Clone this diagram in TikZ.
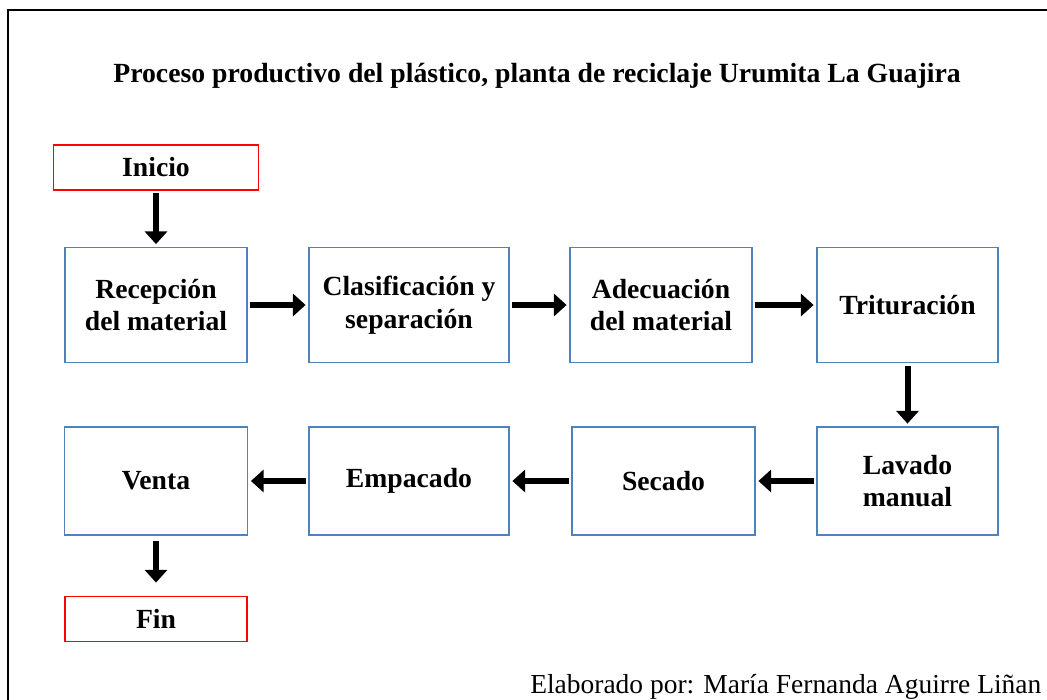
\documentclass[tikz,border=0pt]{standalone}
\usepackage{fontspec}
\setmainfont{Liberation Serif}
\usetikzlibrary{arrows.meta,positioning}
\definecolor{boxblue}{RGB}{79,129,189}

\tikzset{
  proc box/.style={draw=boxblue, line width=1.1pt, align=center, inner sep=0pt,
    font=\bfseries\fontsize{20.75}{24.5}\selectfont},
  term box/.style={draw=red, line width=1.1pt, align=center, inner sep=0pt,
    minimum height=33.5pt, font=\bfseries\fontsize{20.75}{24.5}\selectfont},
  flow/.style={->, line width=4.5pt, shorten <=2pt, shorten >=2pt}
}

\begin{document}
\begin{tikzpicture}[x=0.75pt, y=-0.75pt, >={Triangle[length=9.5pt,width=16.5pt]}]

\useasboundingbox (0,0) rectangle (1047,700);
\draw[line width=1.5pt] (8,10) rectangle (1070,720);

\node [font=\bfseries\fontsize{20.8}{24}\selectfont] (title) at (537,76)
  {Proceso productivo del plástico, planta de reciclaje Urumita La Guajira};

\node [term box, minimum width=153.75pt] (ini) at (156,167.5) {Inicio};
\node [term box, minimum width=136.5pt] (fin) at (156,619) {Fin};

\foreach \n/\t/\x/\w in {rec/{Recepción\\del material}/156/182,
    cla/{Clasificación y\\separación}/409/200,
    ade/{Adecuación\\del material}/661/182,
    tri/Trituración/907.5/181}
  \node [proc box, minimum width=\w*0.75pt, minimum height=86.25pt] (\n) at (\x,305) {\t};

\foreach \n/\t/\x/\w in {ven/Venta/156/183,
    emp/Empacado/409/200,
    sec/Secado/663.5/183,
    lav/{Lavado\\manual}/907.5/181}
  \node [proc box, minimum width=\w*0.75pt, minimum height=81pt] (\n) at (\x,481) {\t};

\foreach \a/\b in {ini/rec, rec/cla, cla/ade, ade/tri, tri/lav, lav/sec, sec/emp, emp/ven}
  \draw [flow] (\a) -- (\b);
\draw [flow, shorten <=4pt, shorten >=10pt] (ven) -- (fin);

\node [anchor=base east, font=\fontsize{20.6}{24}\selectfont] (autor) at (1046,693)
  {Elaborado por: María Fernanda Aguirre Liñan};

\end{tikzpicture}
\end{document}
